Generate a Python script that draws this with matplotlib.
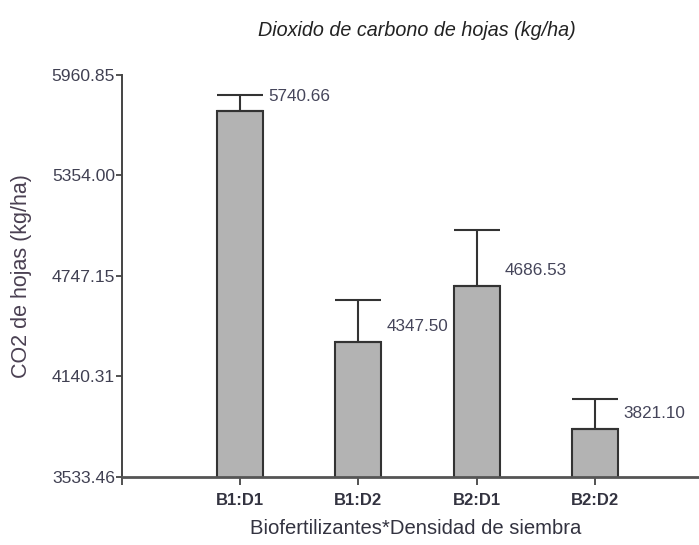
import matplotlib
matplotlib.use("Agg")
import matplotlib.pyplot as plt

categories = ["B1:D1", "B1:D2", "B2:D1", "B2:D2"]
means = [5740.66, 4347.50, 4686.53, 3821.10]
errors = [101.0, 255.0, 338.0, 181.0]
yticks = [3533.46, 4140.31, 4747.15, 5354.00, 5960.85]
ytick_labels = ["3533.46", "4140.31", "4747.15", "5354.00", "5960.85"]
title = "Dioxido de carbono de hojas (kg/ha)"
xlabel = "Biofertilizantes*Densidad de siembra"
ylabel = "CO2 de hojas (kg/ha)"

plt.rcParams['font.family'] = ['Liberation Sans', 'DejaVu Sans']

W, H = 699, 545
fig = plt.figure(figsize=(W / 100, H / 100), dpi=100)
left = 121.7 / W
bottom = (H - 476.7) / H
top = (H - 75) / H
ax = fig.add_axes([left, bottom, 1 - left, top - bottom])

xs = list(range(1, len(categories) + 1))
edge = '#333333'
ax.bar(xs, means, width=0.39, color='#b3b3b3', edgecolor=edge, linewidth=1.5,
       bottom=0, zorder=2)
ax.errorbar(xs, means, yerr=[[0] * len(errors), errors], fmt='none',
            ecolor=edge, elinewidth=1.5, capsize=16.7, capthick=1.5, zorder=3)

for x, v in zip(xs, means):
    ax.annotate(f"{v:.2f}", xy=(x + 0.195, v), xytext=(3.6, 11),
                textcoords='offset points', ha='left', va='center',
                fontsize=12.3, color='#45455a')

ax.set_ylim(yticks[0], yticks[-1])
ax.set_xlim(0, (W - 121.7) / 118.3)
ax.set_yticks(yticks)
ax.set_yticklabels(ytick_labels)
ax.set_xticks([0] + xs)
ax.set_xticklabels([""] + categories, fontweight='bold', fontsize=12,
                   color='#333340')

for s in ['top', 'right']:
    ax.spines[s].set_visible(False)
ax.spines['left'].set_color('#444444')
ax.spines['left'].set_linewidth(1.4)
ax.spines['bottom'].set_color('#555555')
ax.spines['bottom'].set_linewidth(2.0)

ax.tick_params(axis='y', length=4, width=1.3, color='#444444', pad=0.8,
               labelsize=12.6, labelcolor='#404052')
ax.tick_params(axis='x', length=6, width=1.3, color='#444444', pad=6)

fig.text(417 / W, 1 - 30 / H, title, ha='center', va='center',
         fontsize=14.2, style='italic', color='#222222')
fig.text(416 / W, 1 - 528 / H, xlabel, ha='center', va='center',
         fontsize=14.6, color='#333340')
fig.text(22 / W, 1 - 276 / H, ylabel, ha='center', va='center',
         rotation=90, fontsize=15.5, color='#4a4052')

fig.savefig("out.png", dpi=100)
